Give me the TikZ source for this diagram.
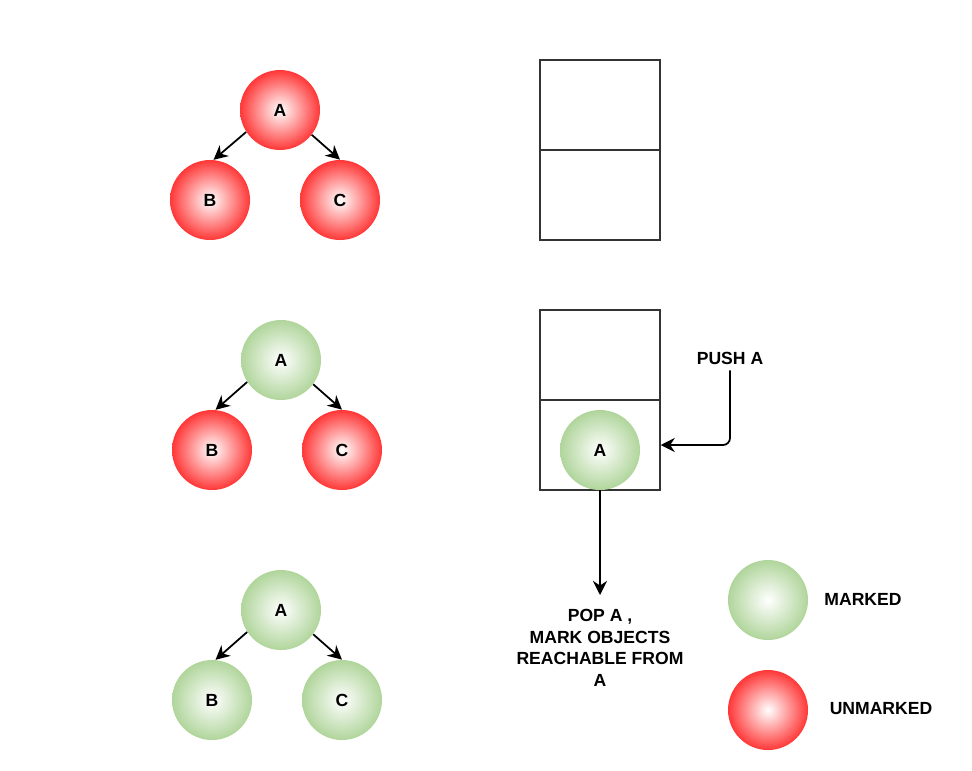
\documentclass[tikz,border=0pt]{standalone}
\usepackage{fontspec}
\setmainfont{Liberation Sans}
\usetikzlibrary{arrows.meta}
\definecolor{unmarked}{RGB}{255,55,55}
\definecolor{marked}{RGB}{176,213,155}

\begin{document}
\begin{tikzpicture}[font=\bfseries\fontsize{10}{12.3}\selectfont,
    ball/.style={circle, minimum size=1.6cm, inner sep=0pt, shading=radial, inner color=white},
    arr/.style={-{Stealth[length=8pt,width=8pt]}, line width=1pt}]

        \useasboundingbox (0,0) rectangle (19.44,-15.4);

        % stack cells
        \begin{scope}[every node/.style={draw=black!80, line width=0.8pt, minimum width=2.4cm, minimum height=1.8cm, inner sep=0pt}]
          \node (s1) at (12,-2.1) {};
          \node (s2) at (12,-3.9) {};
          \node (s3) at (12,-7.1) {};
          \node (s4) at (12,-8.9) {};
        \end{scope}

        \begin{scope}[every node/.style={ball, outer color=unmarked}]
          \node (a1) at (5.6,-2.2)   {A};
          \node (b1) at (4.2,-4.0)   {B};
          \node (c1) at (6.8,-4.0)   {C};
          \node (b2) at (4.24,-9.0)  {B};
          \node (c2) at (6.84,-9.0)  {C};
          \node (lu) at (15.36,-14.2) {};
        \end{scope}

        \begin{scope}[every node/.style={ball, outer color=marked}]
          \node (a2) at (5.62,-7.2)  {A};
          \node (a3) at (5.62,-12.2) {A};
          \node (b3) at (4.24,-14.0) {B};
          \node (c3) at (6.84,-14.0) {C};
          \node (sa) at (12,-9.0)    {A};
          \node (lm) at (15.36,-12.0) {};
        \end{scope}

        \node (push) at (14.6,-7.16) {PUSH A};
        \node[align=center, anchor=north, inner sep=8pt] (pop) at (12,-11.9) {POP A ,\\MARK OBJECTS\\REACHABLE FROM\\A};
        \node (mtext) at (17.26,-11.98) {MARKED};
        \node (utext) at (17.62,-14.18) {UNMARKED};

        \begin{scope}[every edge/.style={draw, arr}]
          \path (a1.213) edge (b1.85);
          \path (a1.322) edge (c1.90);
          \path (a2.213) edge (b2.85);
          \path (a2.323) edge (c2.90);
          \path (a3.213) edge (b3.85);
          \path (a3.323) edge (c3.90);
          \path (sa.south) edge (pop.north);
        \end{scope}
        \draw[arr, rounded corners=4pt] (push.south) |- (s4.east);
      \end{tikzpicture}
\end{document}
